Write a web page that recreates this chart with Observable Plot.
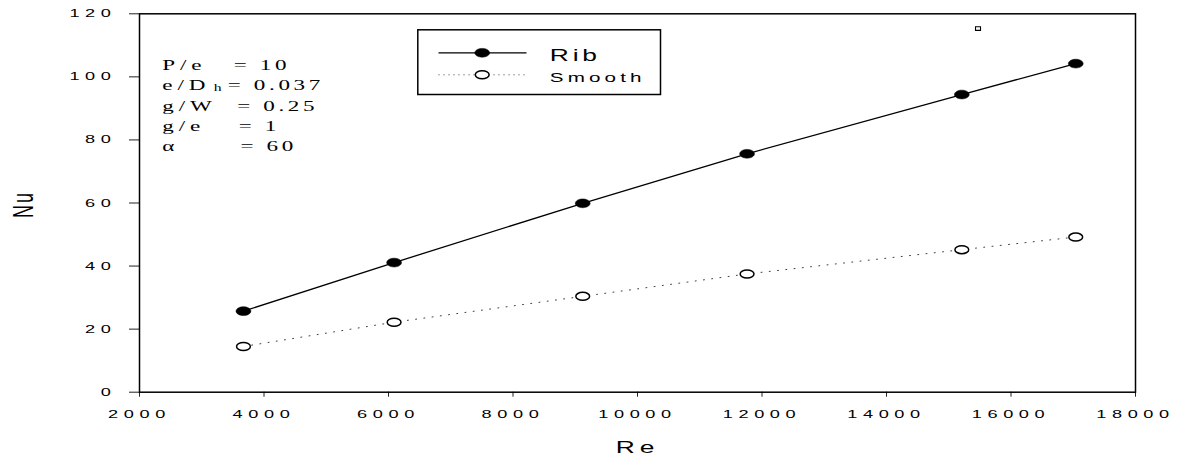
<!DOCTYPE html>
<html>
<head>
<meta charset="utf-8">
<script src="https://cdn.jsdelivr.net/npm/d3@7"></script>
<script src="https://cdn.jsdelivr.net/npm/@observablehq/plot@0.6"></script>
<style>
  html, body { margin: 0; padding: 0; background: #fff; }
  #chart { width: 1180px; height: 457px; }
</style>
</head>
<body>
<div id="chart"></div>
<script>
// ---- data ----
const reynolds = [3670, 6090, 9120, 11760, 15210, 17040];
const nuRib = [25.7, 41.1, 59.9, 75.6, 94.4, 104.2];
const nuSmooth = [14.5, 22.2, 30.4, 37.5, 45.2, 49.2];
const seriesNames = ["Rib", "Smooth"];
const xTicks = [2000, 4000, 6000, 8000, 10000, 12000, 14000, 16000, 18000];
const yTicks = [0, 20, 40, 60, 80, 100, 120];
const paramNames = ["P/e", "e/D", "g/W", "g/e", "α"];
const paramSub = "h";
const paramValues = ["10", "0.037", "0.25", "1", "60"];
const strayRe = [15470];
const strayNu = [115.3];
const xLabel = "Re";
const yLabel = "Nu";

const ribRows = reynolds.map((re, i) => ({re, nu: nuRib[i]}));
const smoothRows = reynolds.map((re, i) => ({re, nu: nuSmooth[i]}));
const strayRows = strayRe.map((re, i) => ({re, nu: strayNu[i]}));

// ---- symbols ----
const ellipse = (rx, ry) => ({
  draw(c) {
    const k = 0.5523;
    c.moveTo(rx, 0);
    c.bezierCurveTo(rx, ry * k, rx * k, ry, 0, ry);
    c.bezierCurveTo(-rx * k, ry, -rx, ry * k, -rx, 0);
    c.bezierCurveTo(-rx, -ry * k, -rx * k, -ry, 0, -ry);
    c.bezierCurveTo(rx * k, -ry, rx, -ry * k, rx, 0);
    c.closePath();
  }
});
const segment = (h) => ({ draw(c) { c.moveTo(-h, 0); c.lineTo(h, 0); } });
const smallBox = (w, h) => ({ draw(c) { c.rect(-w / 2, -h / 2, w, h); } });

const SANS = "'Liberation Sans', Arial, sans-serif";
const SERIF = "'Liberation Serif', 'Times New Roman', serif";

// custom text marks, in order (used for the stretch step below)
const textSpecs = [];
function label(data, opts, s, ls) {
  textSpecs.push({s, ls});
  return Plot.text(data, {fill: "#000", ...opts});
}

// "= value" column: the equals signs are not perfectly aligned in the source
const eqOffsets = [94.3, 88.3, 97.7, 99.3, 101];
const rowStep = 20.4;
const valueMarks = paramValues.map((v, i) =>
  label(["= " + v], {frameAnchor: "top-left", dx: eqOffsets[i], dy: 56 + i * rowStep, textAnchor: "start", lineAnchor: "bottom", fontSize: 14, fontFamily: SERIF}, 1.65, 2.2)
);

const chart = Plot.plot({
  width: 1180,
  height: 457,
  marginTop: 13.3,
  marginRight: 45,
  marginBottom: 65.3,
  marginLeft: 139,
  style: {fontFamily: SANS, fontSize: "11px", color: "#000", background: "#fff", overflow: "visible"},
  x: {domain: [2000, 18000], label: null},
  y: {domain: [0, 120], label: null},
  marks: [
    Plot.axisX(xTicks, {tickSize: 5, tickPadding: 13.3, tickFormat: (d) => String(d), stroke: "#222", fill: "#000", fontSize: 11, label: null}),
    Plot.axisY(yTicks, {tickSize: 10, tickPadding: 13, tickFormat: (d) => String(d), stroke: "#222", fill: "#000", fontSize: 11, label: null}),
    Plot.frame({stroke: "#000", strokeWidth: 1.5}),
    // series
    Plot.line(ribRows, {x: "re", y: "nu", stroke: "#000", strokeWidth: 1.3}),
    Plot.line(smoothRows, {x: "re", y: "nu", stroke: "#000", strokeWidth: 1, strokeDasharray: "1,7.3", strokeOpacity: 0.75}),
    Plot.dot(ribRows, {x: "re", y: "nu", symbol: ellipse(7.4, 4.4), fill: "#000", stroke: "#000", strokeWidth: 0.5}),
    Plot.dot(smoothRows, {x: "re", y: "nu", symbol: ellipse(6.9, 4), fill: "#fff", stroke: "#000", strokeWidth: 1.5}),
    Plot.dot(strayRows, {x: "re", y: "nu", symbol: smallBox(5, 3.6), fill: "#fff", stroke: "#000", strokeWidth: 1.1}),
    // axis titles
    label([yLabel], {frameAnchor: "left", dx: -116, dy: 1.5, rotate: -90, textAnchor: "middle", lineAnchor: "middle", fontSize: 18}, 1.65, 2),
    label([xLabel], {frameAnchor: "bottom", dx: 0, dy: 55.9, textAnchor: "middle", lineAnchor: "middle", fontSize: 16}, 1.65, 3),
    // parameter annotations
    label([paramNames.join("\n")], {frameAnchor: "top-left", dx: 22.7, dy: 41.5, textAnchor: "start", lineAnchor: "top", lineHeight: 1.457, fontSize: 14, fontFamily: SERIF}, 1.65, 3),
    label([paramSub], {frameAnchor: "top-left", dx: 74.3, dy: 76.7, textAnchor: "start", lineAnchor: "bottom", fontSize: 9.5, fontFamily: SERIF}, 1.65, 0.5),
    ...valueMarks,
    // legend
    Plot.frame({insetLeft: 278.3, insetRight: 475, insetTop: 16, insetBottom: 297.7, stroke: "#000", strokeWidth: 1.5}),
    Plot.dot([seriesNames[0]], {frameAnchor: "top-left", dx: 343, dy: 39, symbol: segment(44), fill: "none", stroke: "#000", strokeWidth: 1.3}),
    Plot.dot([seriesNames[0]], {frameAnchor: "top-left", dx: 342.7, dy: 39, symbol: ellipse(7.4, 4.4), fill: "#000", stroke: "#000", strokeWidth: 0.5}),
    Plot.dot([seriesNames[1]], {frameAnchor: "top-left", dx: 343, dy: 61, symbol: segment(44), fill: "none", stroke: "#000", strokeWidth: 1, strokeDasharray: "1,4", strokeOpacity: 0.75}),
    Plot.dot([seriesNames[1]], {frameAnchor: "top-left", dx: 342.7, dy: 61, symbol: ellipse(6.9, 4), fill: "#fff", stroke: "#000", strokeWidth: 1.5}),
    label([seriesNames[0]], {frameAnchor: "top-left", dx: 410.3, dy: 46.7, textAnchor: "start", lineAnchor: "bottom", fontSize: 16}, 1.65, 2.3),
    label([seriesNames[1]], {frameAnchor: "top-left", dx: 410.3, dy: 68.4, textAnchor: "start", lineAnchor: "bottom", fontSize: 12.5}, 1.65, 2.5)
  ]
});

// textSpecs were pushed in creation order; reorder to match the order of marks in the chart
document.getElementById("chart").appendChild(chart);

// horizontal stretch + letter spacing of text, as in the reference
function stretchText(t, s, ls) {
  const tr = t.getAttribute("transform") || "";
  if (/translate\([^)]*\)/.test(tr)) {
    t.setAttribute("transform", tr.replace(/(translate\([^)]*\))/, `$1 scale(${s},1)`));
  } else {
    const x = +t.getAttribute("x") || 0;
    t.removeAttribute("x");
    t.setAttribute("transform", `translate(${x},0) scale(${s},1) ${tr}`);
  }
  t.style.letterSpacing = ls + "px";
}
chart.querySelectorAll('g[aria-label$="axis tick label"] text').forEach((t) => stretchText(t, 1.65, 3.4));
// value marks were created first, but appear after the title/annotation marks in the chart
const nv = valueMarks.length;
const orderedSpecs = [...textSpecs.slice(nv, nv + 4), ...textSpecs.slice(0, nv), ...textSpecs.slice(nv + 4)];
const textGroups = chart.querySelectorAll('g[aria-label="text"]');
textGroups.forEach((g, i) => {
  const spec = orderedSpecs[i];
  if (!spec) return;
  g.querySelectorAll("text").forEach((t) => stretchText(t, spec.s, spec.ls));
});
</script>
</body>
</html>
